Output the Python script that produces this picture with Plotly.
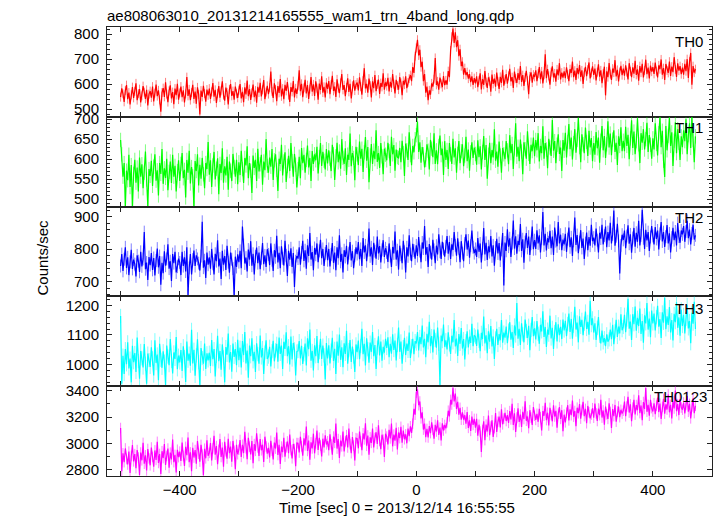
import plotly.graph_objects as go
from plotly.subplots import make_subplots

# ---- data: 2-s samples, starting at t = -500 s ----
T_START, T_STEP = -500, 2

th0 = [
    548, 583, 561, 529, 574, 596, 540, 566, 519, 557, 588, 545, 571, 603, 536, 562, 580, 527, 553, 592, 568, 541, 577, 515, 560,
    572, 546, 590, 531, 564, 598, 552, 575, 537, 489, 566, 584, 549, 607, 560, 528, 573, 595, 543, 568, 520, 582, 556, 601, 538,
    565, 590, 548, 575, 527, 561, 628, 553, 579, 536, 566, 597, 541, 570, 521, 587, 559, 478, 574, 549, 593, 562, 530, 578, 555,
    582, 541, 569, 604, 550, 577, 525, 563, 592, 546, 573, 611, 556, 534, 586, 567, 519, 579, 600, 553, 572, 538, 590, 561, 545,
    576, 600, 543, 569, 528, 587, 559, 614, 552, 580, 537, 565, 598, 548, 574, 526, 589, 566, 605, 551, 577, 616, 540, 568, 593,
    560, 586, 650, 571, 545, 603, 578, 532, 592, 565, 620, 551, 582, 540, 597, 573, 608, 556, 529, 588, 569, 612, 547, 583, 561,
    594, 655, 572, 601, 548, 585, 617, 563, 596, 541, 580, 628, 570, 599, 553, 611, 584, 538, 602, 577, 631, 566, 589, 547, 606,
    581, 612, 560, 598, 633, 573, 590, 549, 619, 584, 564, 605, 640, 577, 596, 552, 587, 623, 569, 601, 543, 593, 615, 574, 598,
    606, 575, 627, 590, 558, 614, 664, 583, 601, 566, 622, 595, 547, 611, 584, 636, 572, 599, 618, 561, 604, 589, 643, 578, 607,
    592, 625, 571, 609, 586, 640, 600, 563, 617, 594, 578, 628, 605, 556, 613, 598, 631, 584, 607, 622, 636, 612, 668, 645, 712,
    745, 778, 715, 738, 668, 690, 612, 640, 566, 590, 536, 575, 558, 603, 590, 620, 705, 597, 611, 578, 626, 601, 588, 632, 596,
    615, 598, 652, 628, 735, 790, 823, 765, 808, 748, 776, 712, 740, 672, 690, 638, 664, 636, 648, 622, 640, 608, 631, 597, 624,
    603, 631, 588, 615, 643, 579, 620, 597, 652, 608, 585, 627, 612, 570, 638, 601, 622, 590, 646, 611, 581, 629, 605, 657, 594,
    618, 640, 602, 633, 661, 611, 628, 585, 650, 622, 605, 644, 617, 672, 609, 636, 593, 627, 653, 614, 560, 631, 647, 606, 638,
    629, 655, 612, 642, 668, 620, 651, 603, 637, 720, 624, 660, 633, 598, 648, 671, 627, 643, 610, 659, 635, 684, 619, 646, 626,
    651, 624, 667, 639, 612, 660, 645, 690, 628, 654, 617, 664, 640, 676, 629, 655, 601, 647, 669, 632, 658, 687, 623, 645, 671,
    637, 662, 615, 648, 679, 630, 655, 604, 642, 670, 555, 651, 628, 684, 640, 617, 662, 646, 696, 631, 657, 611, 649, 673, 636,
    662, 634, 675, 648, 619, 684, 651, 628, 667, 642, 693, 637, 659, 614, 672, 646, 681, 627, 655, 698, 640, 666, 623, 674, 650,
    668, 641, 686, 652, 627, 675, 660, 699, 638, 664, 617, 681, 655, 645, 690, 633, 670, 648, 708, 659, 629, 683, 654, 672, 640,
    666, 638, 681, 652, 700, 625, 690, 725, 598, 672, 646, 660,
]

th1 = [
    648, 612, 556, 590, 478, 571, 547, 611, 530, 585, 475, 563, 598, 541, 579, 519, 604, 556, 587, 527, 566, 619, 549, 480, 575,
    558, 596, 533, 581, 612, 546, 572, 509, 590, 563, 625, 538, 577, 553, 601, 522, 568, 594, 540, 611, 556, 583, 519, 570, 597,
    545, 588, 615, 552, 573, 504, 598, 566, 621, 539, 580, 557, 478, 595, 570, 612, 534, 586, 551, 603, 562, 527, 590, 575, 643,
    561, 597, 530, 584, 618, 549, 576, 602, 512, 588, 565, 627, 541, 582, 559, 606, 523, 594, 571, 545, 613, 580, 556, 598, 537,
    592, 560, 621, 575, 540, 603, 584, 632, 552, 590, 571, 515, 609, 578, 598, 545, 626, 569, 587, 611, 536, 594, 572, 650, 583,
    566, 604, 581, 625, 548, 597, 612, 573, 520, 601, 588, 636, 559, 594, 617, 543, 583, 608, 570, 640, 595, 556, 613, 586, 529,
    575, 606, 552, 628, 590, 611, 566, 598, 634, 579, 603, 545, 620, 588, 612, 597, 631, 564, 605, 640, 583, 618, 596, 574, 625,
    589, 622, 601, 570, 636, 612, 548, 607, 641, 592, 619, 576, 650, 603, 588, 627, 560, 611, 598, 664, 582, 615, 603, 547, 631,
    612, 585, 644, 601, 626, 568, 617, 655, 596, 630, 542, 609, 638, 588, 621, 600, 672, 593, 615, 578, 640, 607, 562, 626, 611,
    597, 641, 620, 583, 656, 612, 635, 571, 624, 605, 603, 628, 592, 646, 615, 558, 639, 622, 598, 667, 610, 585, 633, 617, 650,
    660, 694, 618, 642, 591, 630, 612, 579, 598, 637, 621, 574, 648, 626, 605, 665, 588, 622, 587, 633, 659, 610, 626, 560, 645,
    598, 623, 575, 640, 612, 588, 651, 604, 627, 566, 613, 645, 590, 620, 637, 582, 609, 656, 595, 624, 571, 617, 642, 603, 629,
    613, 586, 647, 605, 632, 574, 618, 658, 598, 635, 551, 611, 641, 590, 623, 604, 675, 596, 619, 581, 644, 609, 566, 628, 612,
    600, 645, 622, 587, 660, 615, 638, 575, 627, 690, 606, 631, 595, 649, 619, 562, 642, 625, 601, 670, 613, 588, 636, 620, 654,
    607, 648, 622, 665, 594, 633, 615, 682, 601, 640, 624, 577, 651, 629, 608, 698, 621, 645, 590, 636, 662, 613, 629, 570, 648,
    621, 666, 604, 643, 688, 625, 654, 599, 640, 675, 616, 648, 703, 630, 592, 662, 637, 615, 679, 643, 608, 671, 629, 653, 595,
    640, 611, 668, 627, 654, 591, 646, 683, 622, 658, 603, 637, 695, 629, 664, 610, 649, 672, 618, 641, 585, 657, 633, 680, 620,
    646, 620, 681, 633, 661, 600, 652, 697, 628, 669, 612, 645, 702, 637, 590, 665, 641, 675, 624, 650, 691, 618, 660, 636, 601,
    652, 624, 690, 638, 609, 665, 705, 630, 671, 596, 555, 683, 622, 658, 704, 633, 667, 583, 646, 692, 615, 675, 641, 598, 657,
    630, 672, 645, 700, 612, 660, 690, 628, 705, 648, 592, 657,
]

th2 = [
    748, 785, 733, 769, 806, 742, 775, 720, 761, 798, 739, 768, 754, 716, 781, 763, 730, 792, 747, 770, 853, 738, 759, 705, 776,
    751, 788, 736, 773, 719, 765, 802, 744, 779, 690, 758, 726, 794, 749, 770, 815, 740, 763, 702, 785, 757, 792, 728, 746, 771,
    759, 720, 792, 748, 775, 731, 806, 658, 742, 785, 722, 768, 796, 748, 781, 770, 757, 734, 779, 885, 743, 766, 711, 790, 752,
    775, 740, 801, 755, 722, 786, 763, 828, 747, 771, 708, 795, 752, 779, 736, 811, 760, 727, 790, 769, 740, 654, 777, 745, 784,
    760, 795, 741, 870, 813, 756, 774, 731, 799, 768, 825, 749, 786, 722, 778, 805, 757, 790, 738, 772, 819, 754, 781, 745, 800,
    784, 751, 818, 766, 733, 797, 775, 842, 759, 789, 741, 809, 772, 750, 826, 781, 717, 795, 768, 803, 745, 788, 683, 763, 779,
    771, 806, 752, 790, 826, 764, 797, 740, 812, 779, 850, 768, 791, 735, 804, 783, 818, 760, 795, 829, 772, 801, 748, 787, 813,
    766, 801, 747, 784, 819, 758, 790, 735, 806, 772, 843, 761, 786, 728, 797, 776, 811, 753, 788, 822, 765, 794, 741, 780, 806,
    785, 822, 769, 801, 748, 835, 790, 812, 763, 797, 864, 778, 806, 751, 820, 794, 771, 839, 787, 810, 759, 798, 828, 776, 803,
    790, 761, 818, 779, 745, 807, 787, 855, 768, 797, 737, 811, 783, 757, 826, 792, 728, 806, 778, 843, 785, 763, 817, 796, 771,
    812, 779, 838, 794, 760, 821, 802, 872, 783, 807, 745, 816, 791, 768, 829, 798, 757, 811, 784, 846, 792, 770, 823, 801, 777,
    809, 841, 786, 822, 770, 815, 798, 853, 812, 780, 834, 803, 760, 825, 788, 763, 818, 846, 799, 827, 774, 811, 858, 806, 788,
    801, 776, 835, 792, 818, 759, 803, 866, 784, 820, 767, 809, 791, 841, 778, 812, 749, 805, 832, 787, 819, 765, 798, 850, 688,
    821, 795, 862, 808, 834, 776, 819, 889, 802, 840, 786, 826, 813, 878, 795, 831, 758, 822, 850, 804, 839, 782, 817, 870, 800,
    828, 801, 859, 818, 843, 790, 834, 915, 812, 848, 796, 834, 821, 857, 803, 839, 782, 867, 825, 809, 884, 818, 845, 797, 830,
    815, 848, 792, 831, 867, 806, 837, 779, 826, 898, 813, 844, 788, 822, 859, 804, 833, 770, 819, 852, 797, 838, 811, 876, 825,
    836, 812, 864, 828, 790, 851, 833, 876, 815, 842, 870, 806, 853, 827, 882, 818, 846, 920, 811, 840, 879, 826, 725, 812, 845,
    829, 858, 803, 841, 874, 817, 846, 789, 835, 866, 808, 851, 823, 888, 812, 843, 922, 834, 801, 860, 827, 853, 795, 838, 872,
    841, 815, 869, 832, 858, 799, 848, 884, 824, 853, 807, 839, 875, 818, 849, 790, 836, 866, 828, 855, 812, 881, 839, 820, 858,
    846, 872, 823, 855, 888, 834, 861, 815, 849, 876, 830, 843,
]

th3 = [
    1164, 935, 1030, 968, 1052, 1001, 1075, 987, 1020, 940, 1063, 1008, 1039, 975, 1091, 1012, 952, 1046, 1021, 990, 1069, 1003, 935, 1037, 1015,
    992, 1058, 1021, 963, 1082, 1005, 1034, 947, 1070, 1016, 989, 1045, 1010, 931, 1064, 1027, 998, 1086, 1012, 970, 1041, 1019, 1093, 984, 1030,
    1007, 1049, 978, 1062, 1025, 941, 1078, 1013, 1037, 996, 1117, 1004, 1050, 962, 1031, 1085, 1008, 929, 1056, 1022, 1003, 1071, 985, 1038, 1014,
    1040, 995, 1083, 1018, 1052, 960, 1029, 1097, 1011, 1046, 983, 1068, 1024, 940, 1059, 1033, 1105, 1007, 1042, 976, 1071, 1026, 1052, 998, 1084,
    1015, 1057, 990, 1079, 1032, 1110, 1004, 1047, 956, 1064, 1028, 1089, 1011, 1043, 975, 1072, 1035, 1003, 1098, 1024, 1056, 968, 1041, 1082, 1019,
    1027, 1060, 994, 1045, 1080, 1011, 1048, 1070, 1010, 1091, 1036, 1064, 985, 1077, 1053, 1109, 1028, 1062, 1000, 1095, 1017, 1073, 1051, 963, 1044,
    1046, 1079, 1021, 1063, 1002, 1035, 1071, 997, 1089, 1052, 1118, 1013, 1046, 980, 1065, 1028, 1096, 1005, 1042, 1087, 1019, 1064, 1031, 950, 1073,
    1021, 1065, 1004, 1047, 1090, 1012, 1053, 968, 1078, 1030, 1101, 1016, 1058, 991, 1072, 1036, 1114, 1003, 1049, 1083, 1009, 1061, 1027, 975, 1068,
    1042, 1081, 1018, 1063, 1121, 1035, 1070, 997, 1089, 1052, 1006, 1074, 1043, 1110, 1028, 1066, 985, 1057, 1095, 1031, 1078, 1013, 1060, 1040, 1087,
    1056, 1092, 1025, 1070, 1037, 1102, 1049, 1081, 1014, 1066, 1125, 1043, 1078, 1003, 1059, 1090, 1032, 1071, 1046, 1108, 1022, 1062, 1087, 1035, 1079,
    1071, 1110, 1048, 1093, 1069, 1132, 1058, 1087, 1025, 1104, 1075, 1144, 1062, 1096, 1041, 1118, 1083, 1057, 1125, 1070, 930, 1098, 1079, 1135, 1060,
    1082, 1051, 1109, 1068, 1036, 1097, 1075, 1150, 1061, 1088, 1029, 1103, 1070, 1123, 1054, 1086, 1017, 1079, 1112, 1058, 1094, 1073, 1138, 1062, 1099,
    1094, 1063, 1118, 1080, 1045, 1107, 1086, 1162, 1071, 1099, 1038, 1112, 1077, 1130, 1061, 1095, 1019, 1088, 1121, 1066, 1103, 1082, 1150, 1074, 1108,
    1091, 1128, 1072, 1115, 1143, 1084, 1110, 1056, 1132, 1098, 1208, 1087, 1121, 1066, 1139, 1102, 1075, 1152, 1113, 1090, 1131, 1048, 1117, 1160, 1096,
    1122, 1085, 1147, 1104, 1070, 1134, 1112, 1180, 1093, 1127, 1059, 1118, 1101, 1165, 1088, 1124, 1053, 1110, 1143, 1078, 1136, 1099, 1127, 1086, 1152,
    1115, 1148, 1096, 1137, 1172, 1110, 1154, 1087, 1131, 1195, 1118, 1142, 1075, 1163, 1127, 1151, 1099, 1138, 1179, 1120, 1144, 1101, 1215, 1133, 1156,
    1108, 1139, 1083, 1124, 1160, 1097, 1071, 1115, 1075, 1089, 1062, 1102, 1077, 1085, 1118, 1086, 1134, 1069, 1112, 1151, 1093, 1128, 1105, 1170, 1116,
    1127, 1168, 1109, 1152, 1222, 1121, 1145, 1083, 1170, 1136, 1196, 1114, 1158, 1130, 1189, 1103, 1147, 1074, 1166, 1139, 1208, 1118, 1155, 1092, 1182,
    1139, 1172, 1115, 1160, 1198, 1128, 1153, 1090, 1176, 1141, 1225, 1119, 1163, 1134, 1194, 1108, 1150, 1081, 1171, 1143, 1210, 1124, 1159, 1097, 1186,
    1130, 1168, 1105, 1154, 1201, 1122, 1147, 1072, 1175, 1138, 1212, 1120,
]

th0123 = [
    3117, 2790, 2925, 2858, 2962, 2881, 2840, 2938, 2776, 2905, 2987, 2864, 2919, 2812, 2950, 2893, 2760, 2931, 2872, 3004, 2846, 2910, 2795, 2958, 2887,
    2834, 2969, 2898, 2823, 2947, 2875, 3012, 2852, 2920, 2768, 2941, 2889, 2995, 2837, 2906, 2961, 2815, 2930, 2879, 3030, 2858, 2913, 2780, 2952, 2896,
    2938, 2867, 3006, 2905, 2829, 2974, 2911, 3045, 2858, 2932, 2790, 2967, 2893, 2950, 2846, 3018, 2921, 2862, 2989, 2915, 2758, 2960, 2887, 3024, 2906,
    2928, 3003, 2871, 2962, 3058, 2915, 2980, 2842, 2951, 3034, 2897, 2968, 2823, 3012, 2940, 2885, 3035, 2926, 2976, 2862, 3019, 2944, 2805, 2990, 2918,
    2952, 3026, 2898, 2990, 2927, 3089, 2963, 2881, 3042, 2975, 2916, 3018, 2850, 2995, 2944, 3077, 2969, 2905, 3034, 2948, 2990, 2860, 3051, 2977, 2922,
    2966, 2893, 3020, 2945, 2878, 3007, 2961, 3082, 2912, 2990, 2845, 2976, 2934, 3042, 2900, 2971, 3015, 2926, 3068, 2949, 2887, 2996, 2958, 2828, 3003,
    3002, 2931, 3050, 2978, 2907, 3039, 2985, 3129, 2943, 3021, 2876, 3008, 2962, 3074, 2925, 3000, 3097, 2951, 3043, 2984, 2901, 3036, 2970, 3062, 2992,
    3016, 2948, 3070, 2993, 2915, 3052, 3004, 3150, 2961, 3033, 2889, 3022, 2978, 3091, 2940, 3015, 3063, 2969, 3112, 2995, 2926, 3048, 2983, 2870, 3040,
    3036, 2963, 3090, 3015, 2948, 3077, 3031, 3152, 2982, 3060, 2915, 3046, 3004, 3112, 2970, 3041, 3085, 2996, 3138, 3019, 2957, 3066, 3028, 2898, 3073,
    3052, 2992, 3104, 3038, 3150, 2978, 3067, 3021, 3118, 2955, 3083, 3040, 3126, 3005, 3098, 3032, 3069, 3001, 3112, 3055, 3130, 3080, 3150, 3262, 3218,
    3385, 3410, 3290, 3318, 3190, 3236, 3105, 3150, 3048, 3110, 3045, 3132, 3078, 3160, 3102, 3036, 3141, 3090, 3175, 3064, 3120, 3022, 3153, 3098, 3140,
    3115, 3160, 3248, 3205, 3330, 3295, 3422, 3318, 3378, 3262, 3315, 3218, 3270, 3180, 3236, 3180, 3214, 3150, 3238, 3118, 3176, 3095, 3204, 3140, 3186,
    3120, 3186, 3058, 3142, 3090, 2935, 3102, 3168, 3025, 3143, 3090, 3211, 3062, 3128, 3175, 3049, 3116, 3230, 3087, 3164, 3203, 3122, 3258, 3145, 3188,
    3232, 3170, 3214, 3156, 3245, 3182, 3301, 3140, 3228, 3087, 3197, 3266, 3163, 3219, 3125, 3240, 3185, 3320, 3172, 3204, 3116, 3252, 3196, 3141, 3276,
    3210, 3178, 3225, 3164, 3262, 3199, 3098, 3245, 3210, 3308, 3177, 3233, 3136, 3270, 3215, 3168, 3289, 3204, 3247, 3120, 3226, 3275, 3186, 3252, 3092,
    3218, 3160, 3233, 3290, 3175, 3258, 3214, 3325, 3202, 3246, 3131, 3271, 3229, 3298, 3188, 3254, 3315, 3207, 3262, 3153, 3284, 3236, 3190, 3219, 3267,
    3195, 3302, 3228, 3170, 3265, 3214, 3331, 3196, 3250, 3142, 3279, 3221, 3186, 3304, 3238, 3118, 3260, 3207, 3292, 3165, 3243, 3280, 3199, 3255, 3226,
    3248, 3318, 3206, 3280, 3354, 3234, 3296, 3168, 3272, 3330, 3219, 3291, 3252, 3365, 3230, 3288, 3176, 3314, 3261, 3420, 3240, 3292, 3210, 3330, 3268,
    3242, 3305, 3221, 3286, 3347, 3238, 3302, 3185, 3277, 3338, 3226, 3296, 3257, 3371, 3236, 3293, 3190, 3320, 3265, 3402, 3245, 3298, 3215, 3336, 3272,
    3256, 3310, 3228, 3292, 3360, 3240, 3300, 3190, 3281, 3342, 3230, 3286,
]

band_names = ["TH0", "TH1", "TH2", "TH3", "TH0123"]
band_errors = [18, 18, 20, 24, 40]   # half-length of the error bars
x_tick_vals = [-500, -400, -300, -200, -100, 0, 100, 200, 300, 400]
x_tick_text = ["", "\u2212400", "", "\u2212200", "", "0", "", "200", "", "400"]

title_text = "ae808063010_20131214165555_wam1_trn_4band_long.qdp"
x_title = "Time [sec] 0 = 2013/12/14 16:55:55"
y_title = "Counts/sec"

# ---- styling ----
series = [th0, th1, th2, th3, th0123]
colors = ["#ff0000", "#00ff00", "#0000ff", "#00ffff", "#ff00ff"]
err_colors = ["rgba(255,0,0,0.5)", "rgba(0,255,0,0.5)", "rgba(0,0,255,0.5)",
              "rgba(0,255,255,0.5)", "rgba(255,0,255,0.5)"]
y_ranges = [[469, 829], [481, 706], [654, 932], [927, 1230], [2753, 3434]]
y_dticks = [100, 50, 100, 100, 200]
y_minor = [20, 10, 20, 20, 100]
label_tops_px = [31, 117.5, 207.5, 297.5, 386]   # pixel y of label box top
label_right_px = [705, 705, 705, 705, 709]

W, H = 717, 516
ML, MR, MT, MB = 107, 5, 27, 40
PW, PH = W - ML - MR, H - MT - MB
FONT = "Liberation Sans, Arial, Helvetica, sans-serif"
AXIS_COLOR = "#222222"

fig = make_subplots(rows=5, cols=1, shared_xaxes=True, vertical_spacing=0)

for i, (ys, c, ec, err) in enumerate(zip(series, colors, err_colors, band_errors)):
    xs = [T_START + T_STEP * k for k in range(len(ys))]
    fig.add_trace(go.Scatter(
        x=xs, y=ys, mode="lines",
        line=dict(color=c, width=1.2),
        error_y=dict(type="constant", value=err, color=ec, thickness=1, width=0),
        showlegend=False, hoverinfo="skip"), row=i + 1, col=1)

for i in range(5):
    fig.layout[f"yaxis{'' if i == 0 else i + 1}"].domain = [1 - (i + 1) / 5, 1 - i / 5]

fig.update_xaxes(range=[-523, 500], tickmode="array", tickvals=x_tick_vals,
                 ticktext=x_tick_text, ticks="inside", ticklen=5, tickwidth=1,
                 tickcolor=AXIS_COLOR, showline=True, linecolor=AXIS_COLOR, linewidth=1,
                 mirror="ticks", showgrid=False, zeroline=False,
                 showticklabels=False,
                 tickfont=dict(family=FONT, size=15, color="black"))
fig.update_xaxes(showticklabels=True, ticklabelstandoff=0, row=5, col=1)

for i in range(5):
    fig.update_yaxes(range=y_ranges[i], dtick=y_dticks[i], tick0=0,
                     ticks="inside", ticklen=5, tickwidth=1, tickcolor=AXIS_COLOR,
                     minor=dict(dtick=y_minor[i], ticks="inside", ticklen=3,
                                tickcolor=AXIS_COLOR, tickwidth=1, showgrid=False),
                     showline=True, linecolor=AXIS_COLOR, linewidth=1, mirror="ticks",
                     showgrid=False, zeroline=False, ticklabelstandoff=4,
                     tickfont=dict(family=FONT, size=15, color="black"),
                     row=i + 1, col=1)

annotations = []
for i, name in enumerate(band_names):
    annotations.append(dict(
        text=name, xref="paper", yref="paper",
        x=(label_right_px[i] - ML) / PW, y=(H - MB - label_tops_px[i]) / PH,
        xanchor="right", yanchor="top", showarrow=False,
        font=dict(family=FONT, size=15, color="black")))
annotations.append(dict(text=x_title, xref="paper", yref="paper",
                        x=(397 - ML) / PW, y=(H - MB - 507) / PH,
                        xanchor="center", yanchor="middle", showarrow=False,
                        font=dict(family=FONT, size=15, color="black")))
annotations.append(dict(text=y_title, xref="paper", yref="paper",
                        x=(41.5 - ML) / PW, y=(H - MB - 258) / PH, textangle=-90,
                        xanchor="center", yanchor="middle", showarrow=False,
                        font=dict(family=FONT, size=15, color="black")))

fig.update_layout(
    width=W, height=H, margin=dict(l=ML, r=MR, t=MT, b=MB),
    paper_bgcolor="white", plot_bgcolor="white",
    title=dict(text=title_text, x=ML / W, xanchor="left", xref="container",
               y=1 - 15.5 / H, yanchor="middle", yref="container",
               font=dict(family=FONT, size=15, color="black")),
    annotations=annotations,
)

fig.write_html("out.html", config={"displayModeBar": False},
               post_script="document.body.style.margin='0';document.body.style.overflow='hidden';")
